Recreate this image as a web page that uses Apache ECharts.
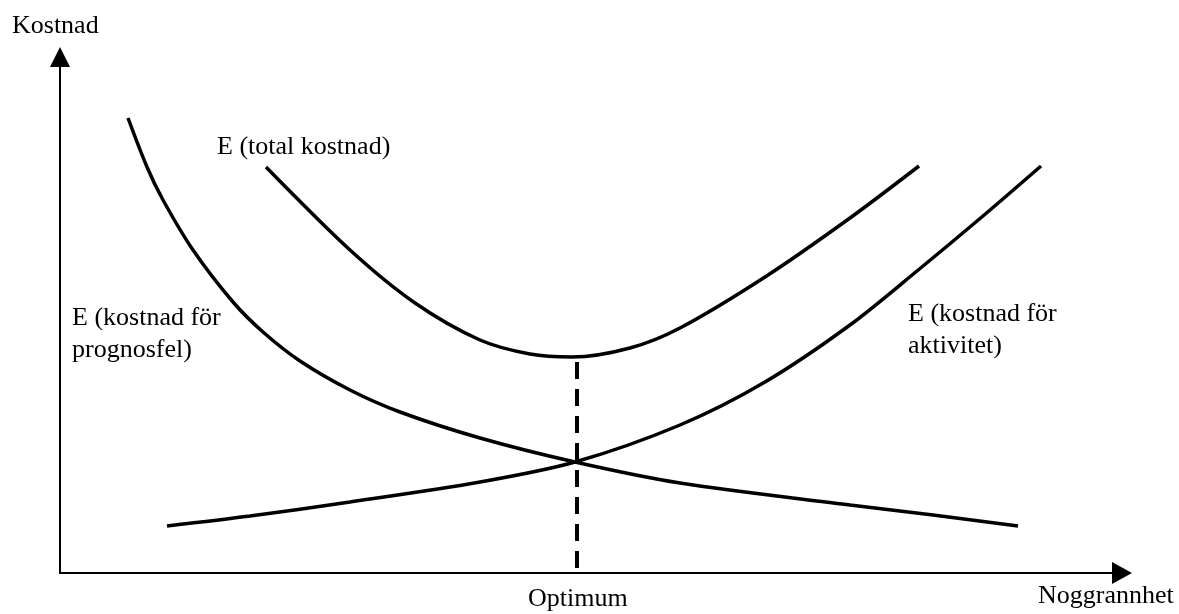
<!DOCTYPE html>
<html>
<head>
<meta charset="utf-8">
<script src="https://cdn.jsdelivr.net/npm/echarts@6/dist/echarts.min.js"></script>
<style>
    html, body { margin: 0; padding: 0; background: #fff; }
    #chart { width: 1179px; height: 614px; }
</style>
</head>
<body>
<div id="chart"></div>
<script>
    // kurvorna, x = noggrannhet, y = kostnad (godtyckliga enheter)
    var prognosfel = [[6.8, 45.5], [8.7, 40.6], [10.3, 37.3], [13.3, 32.3], [17.3, 27.1], [20.3, 24.1],
        [24.0, 21.2], [29.0, 18.3], [34.0, 16.1], [42.0, 13.5], [51.5, 11.1], [62.0, 9.0],
        [79.0, 6.8], [87.3, 5.8], [95.8, 4.7]];
    var aktivitet = [[10.7, 4.7], [19.0, 5.7], [29.0, 7.1], [42.0, 9.1], [51.5, 11.1], [62.0, 14.8],
        [70.5, 19.1], [79.0, 24.8], [85.7, 30.2], [92.3, 35.7], [98.1, 40.7]];
    var total = [[20.6, 40.6], [29.0, 32.3], [35.5, 27.0], [42.0, 23.3], [47.0, 21.9], [51.2, 21.6],
        [57.0, 22.5], [62.0, 24.5], [70.5, 29.6], [79.0, 35.5], [85.9, 40.7]];
    var optimum = [[51.7, 21.1], [51.7, 0]];

    var serif = '26px "Liberation Serif", "Times New Roman", serif';

    var myChart = echarts.init(document.getElementById('chart'));

    function curve(name, data) {
        return {
            name: name,
            type: 'line',
            data: data,
            smooth: 0.3,
            showSymbol: false,
            silent: true,
            lineStyle: { color: '#000', width: 3.5 }
        };
    }

    var option = {
        backgroundColor: '#fff',
        animation: false,
        grid: { left: 60, right: 57, top: 57, bottom: 41 },
        xAxis: {
            type: 'value', min: 0, max: 106.2,
            axisLine: { onZero: false, symbol: ['none', 'triangle'], symbolSize: [22, 20], lineStyle: { color: '#000', width: 2 } },
            axisTick: { show: false }, axisLabel: { show: false }, splitLine: { show: false }
        },
        yAxis: {
            type: 'value', min: 0, max: 51.6,
            axisLine: { show: true, onZero: false, symbol: ['none', 'triangle'], symbolSize: [20, 20], lineStyle: { color: '#000', width: 2 } },
            axisTick: { show: false }, axisLabel: { show: false }, splitLine: { show: false }
        },
        series: [
            curve('E (kostnad för prognosfel)', prognosfel),
            curve('E (kostnad för aktivitet)', aktivitet),
            curve('E (total kostnad)', total),
            {
                name: 'Optimum',
                type: 'line',
                data: optimum,
                showSymbol: false,
                silent: true,
                lineStyle: { color: '#000', width: 4, type: [17, 10] }
            }
        ],
        graphic: [
            { type: 'text', left: 12, top: 13, style: { text: 'Kostnad', font: serif, fill: '#000' } },
            { type: 'text', left: 1038, top: 583, style: { text: 'Noggrannhet', font: serif, fill: '#000' } },
            { type: 'text', left: 528, top: 586, style: { text: 'Optimum', font: serif, fill: '#000' } },
            { type: 'text', left: 217, top: 134, style: { text: 'E (total kostnad)', font: serif, fill: '#000' } },
            { type: 'text', left: 72, top: 302, style: { text: 'E (kostnad för\nprognosfel)', font: serif, lineHeight: 32, fill: '#000' } },
            { type: 'text', left: 908, top: 298, style: { text: 'E (kostnad för\naktivitet)', font: serif, lineHeight: 32, fill: '#000' } }
        ]
    };
    myChart.setOption(option);
</script>
</body>
</html>
